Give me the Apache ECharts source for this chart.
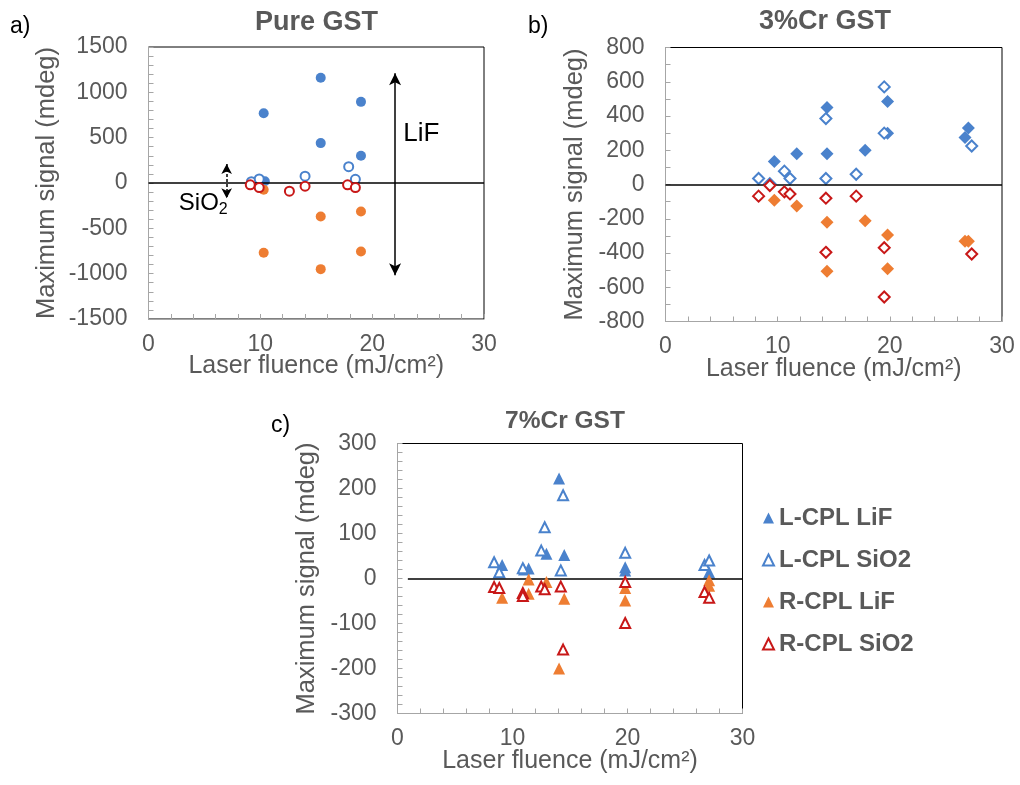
<!DOCTYPE html>
<html>
<head>
<meta charset="utf-8">
<script src="https://cdn.jsdelivr.net/npm/echarts@6/dist/echarts.min.js"></script>
<style>
  html, body { margin: 0; padding: 0; background: #fff; }
  #chart { width: 1020px; height: 785px; }
</style>
</head>
<body>
<div id="chart"></div>
<script>
// Each point: [laser fluence (mJ/cm²), maximum signal (mdeg)]

// a) Pure GST
const pureLcplLif  = [[10.3, 770], [15.4, 1160], [15.4, 440], [19.0, 895], [19.0, 300], [10.4, 20]];
const pureLcplSio2 = [[9.2, 15], [9.9, 45], [14.0, 75], [17.9, 180], [18.5, 40]];
const pureRcplLif  = [[10.3, -75], [10.3, -770], [15.4, -370], [15.4, -950], [19.0, -315], [19.0, -755]];
const pureRcplSio2 = [[9.1, -20], [9.9, -50], [12.6, -90], [14.0, -35], [17.8, -20], [18.5, -50]];

// b) 3%Cr GST
const cr3LcplLif  = [[9.7, 135], [11.7, 180], [14.4, 450], [14.4, 180], [17.8, 200], [19.8, 485], [19.8, 300], [27.0, 330], [26.7, 275]];
const cr3LcplSio2 = [[8.3, 35], [9.3, 5], [10.6, 78], [11.1, 35], [14.3, 385], [14.3, 35], [17.0, 60], [19.5, 570], [19.5, 300], [27.3, 225]];
const cr3RcplLif  = [[9.7, -92], [11.7, -125], [14.4, -220], [14.4, -507], [17.8, -211], [19.8, -295], [19.8, -492], [26.7, -332], [27.0, -332]];
const cr3RcplSio2 = [[8.3, -68], [9.3, -6], [10.6, -43], [11.1, -55], [14.3, -80], [14.3, -396], [17.0, -68], [19.5, -369], [19.5, -657], [27.3, -406]];

// c) 7%Cr GST
const cr7LcplLif  = [[9.1, 30], [11.0, 20], [11.4, 22], [12.95, 55], [14.05, 222], [14.5, 52], [19.8, 25], [19.8, 18], [27.1, 14]];
const cr7LcplSio2 = [[8.4, 36], [8.85, 14], [10.9, 23], [12.5, 62], [12.8, 114], [14.2, 18], [14.4, 185], [19.8, 57], [26.7, 30], [27.1, 40]];
const cr7RcplLif  = [[9.1, -43], [11.4, -2], [11.4, -34], [12.95, -8], [14.5, -45], [14.05, -200], [19.8, -21], [19.8, -49], [27.1, -4], [27.1, -16]];
const cr7RcplSio2 = [[8.4, -19], [8.85, -21], [10.9, -32], [10.9, -39], [12.5, -18], [12.8, -24], [14.2, -18], [14.4, -158], [19.8, -8], [19.8, -99], [26.7, -30], [27.1, -43]];

const seriesNames = ['L-CPL LiF', 'L-CPL SiO2', 'R-CPL LiF', 'R-CPL SiO2'];
const panelTitles = ['Pure GST', '3%Cr GST', '7%Cr GST'];
const panelTags = ['a)', 'b)', 'c)'];
const xTitle = 'Laser fluence (mJ/cm\u00B2)';
const yTitle = 'Maximum signal (mdeg)';

// Annotation arrows in panel a (data coordinates): [x, yTop, yBottom]
const lifArrow = [22.05, 1210, -1018];
const sio2Arrow = [6.99, 210, -169];
const lifLabelAt = [24.4, 540];
const sio2LabelAt = [4.9, -220];

const LABEL = '#595959';
const AXIS = '#a6a6a6';
const BLUE = '#4a82cc';
const ORANGE = '#ee7d32';
const RED = '#c81818';
const FONT = '"Liberation Sans", Arial, Helvetica, sans-serif';
const colors = [BLUE, BLUE, ORANGE, RED];
const filled = [true, false, true, false];

const panels = [
  { grid: { left: 148.5, top: 47, width: 335.5, height: 272 },
    y: { min: -1500, max: 1500, interval: 500, minor: 5 }, nameGap: 89,
    symbol: 'circle', size: [10, 9], data: [pureLcplLif, pureLcplSio2, pureRcplLif, pureRcplSio2] },
  { grid: { left: 665.5, top: 47.5, width: 336.5, height: 274 },
    y: { min: -800, max: 800, interval: 200, minor: 2 }, nameGap: 78,
    symbol: 'diamond', size: [13, 11], data: [cr3LcplLif, cr3LcplSio2, cr3RcplLif, cr3RcplSio2] },
  { grid: { left: 397.5, top: 443.5, width: 345, height: 270 },
    y: { min: -300, max: 300, interval: 100, minor: 5 }, nameGap: 78,
    symbol: 'triangle', size: [12, 10], data: [cr7LcplLif, cr7LcplSio2, cr7RcplLif, cr7RcplSio2] }
];

const grids = [], xAxes = [], yAxes = [], series = [];
const plainNumber = v => String(v);

panels.forEach((p, pi) => {
  grids.push(Object.assign({
    show: true, borderColor: '#000', borderWidth: 1, backgroundColor: '#fff',
    containLabel: false, outerBoundsMode: 'none'
  }, p.grid));

  xAxes.push({
    gridIndex: pi, type: 'value', min: 0, max: 30, interval: 10,
    axisLine: { show: true, onZero: false, lineStyle: { color: AXIS, width: 1 } },
    axisTick: { show: true, inside: true, length: 5, lineStyle: { color: AXIS } },
    minorTick: { show: true, splitNumber: 5, length: 5, lineStyle: { color: AXIS } },
    splitLine: { show: false },
    axisLabel: { color: LABEL, fontSize: 23, fontFamily: FONT, margin: 14, formatter: plainNumber },
    name: xTitle, nameLocation: 'middle', nameGap: 35, nameMoveOverlap: false,
    nameTextStyle: { color: LABEL, fontSize: 25, fontFamily: FONT }
  });

  yAxes.push({
    gridIndex: pi, type: 'value', min: p.y.min, max: p.y.max, interval: p.y.interval,
    axisLine: { show: true, onZero: false, lineStyle: { color: AXIS, width: 1 } },
    axisTick: { show: true, inside: true, length: 5, lineStyle: { color: AXIS } },
    minorTick: { show: true, splitNumber: p.y.minor, length: 5, lineStyle: { color: AXIS } },
    splitLine: { show: false },
    axisLabel: { color: LABEL, fontSize: 23, fontFamily: FONT, margin: 21, formatter: plainNumber },
    name: yTitle, nameLocation: 'middle', nameGap: p.nameGap, nameMoveOverlap: false,
    nameTextStyle: { color: LABEL, fontSize: 25.5, fontFamily: FONT }
  });

  p.data.forEach((d, si) => {
    const c = colors[si];
    const s = {
      type: 'scatter',
      name: pi === 2 ? seriesNames[si] : panelTitles[pi] + ' ' + seriesNames[si],
      xAxisIndex: pi, yAxisIndex: pi,
      symbol: p.symbol,
      symbolSize: filled[si] ? p.size[0] : p.size[1],
      data: d,
      z: 3 + si,
      itemStyle: filled[si]
        ? { color: c, borderWidth: 0, opacity: 1 }
        : { color: '#fff', borderColor: c, borderWidth: 2, opacity: 1 },
      emphasis: { disabled: true }
    };
    if (si === 0) {
      // horizontal zero line across the plot
      s.markLine = {
        silent: true, symbol: 'none', animation: false,
        label: { show: false },
        lineStyle: { color: '#000', width: 1.5, type: 'solid' },
        data: pi === 2
          ? [[{ coord: [0.9, 0] }, { coord: [30, 0] }]]
          : [{ yAxis: 0 }]
      };
    }
    series.push(s);
  });
});

// Arrows marking the LiF and SiO2 signal ranges in panel a
series.push({
  type: 'scatter', name: 'ranges', xAxisIndex: 0, yAxisIndex: 0, data: [], z: 10,
  markLine: {
    silent: true, animation: false, label: { show: false },
    symbol: ['arrow', 'arrow'],
    data: [
      [{ coord: [lifArrow[0], lifArrow[1]], symbolSize: [9, 12] },
       { coord: [lifArrow[0], lifArrow[2]], symbolSize: [9, 12],
         lineStyle: { color: '#000', width: 1.5, type: 'solid' } }],
      [{ coord: [sio2Arrow[0], sio2Arrow[1]], symbolSize: [8, 10] },
       { coord: [sio2Arrow[0], sio2Arrow[2]], symbolSize: [8, 10],
         lineStyle: { color: '#000', width: 1.5, type: [3, 2] } }]
    ],
    itemStyle: { color: '#000' },
    lineStyle: { color: '#000', width: 1.5 }
  }
});

const chart = echarts.init(document.getElementById('chart'), null, { renderer: 'canvas' });

chart.setOption({
  animation: false,
  backgroundColor: '#fff',
  textStyle: { fontFamily: FONT },
  grid: grids,
  xAxis: xAxes,
  yAxis: yAxes,
  legend: {
    data: seriesNames,
    orient: 'vertical',
    left: 757, top: 501,
    itemWidth: 11, itemHeight: 11, itemGap: 18,
    selectedMode: false,
    textStyle: { color: LABEL, fontSize: 24, fontWeight: 'bold', fontFamily: FONT }
  },
  series: series
});

// Text placed after layout so annotations follow the panel-a axes
const lifPx = chart.convertToPixel({ gridIndex: 0 }, lifLabelAt);
const sioPx = chart.convertToPixel({ gridIndex: 0 }, sio2LabelAt);

const titleCenters = [[316.5, 22.5], [825, 22], [565, 421]];
const titleSizes = [27, 27, 24.5];
const tagPos = [[10, 27], [528, 27], [271, 426]];

const graphics = [];
panelTitles.forEach((t, i) => {
  graphics.push({
    type: 'text', x: titleCenters[i][0], y: titleCenters[i][1], silent: true,
    style: { text: t, fill: LABEL, font: 'bold ' + titleSizes[i] + 'px ' + FONT, textAlign: 'center', textVerticalAlign: 'middle' }
  });
  graphics.push({
    type: 'text', x: tagPos[i][0], y: tagPos[i][1], silent: true,
    style: { text: panelTags[i], fill: '#000', font: '23px ' + FONT, textAlign: 'left', textVerticalAlign: 'middle' }
  });
});
graphics.push({
  type: 'text', x: lifPx[0], y: lifPx[1], silent: true,
  style: { text: 'LiF', fill: '#000', font: '26px ' + FONT, textAlign: 'center', textVerticalAlign: 'middle' }
});
graphics.push({
  type: 'text', x: sioPx[0], y: sioPx[1], silent: true,
  style: {
    text: '{m|SiO}{s|2}', textAlign: 'center', textVerticalAlign: 'middle',
    rich: {
      m: { fontSize: 24, fontFamily: FONT, fill: '#000', lineHeight: 30, verticalAlign: 'middle' },
      s: { fontSize: 16, fontFamily: FONT, fill: '#000', lineHeight: 30, verticalAlign: 'bottom', padding: [12, 0, 0, 0] }
    }
  }
});

chart.setOption({ graphic: graphics });
</script>
</body>
</html>
